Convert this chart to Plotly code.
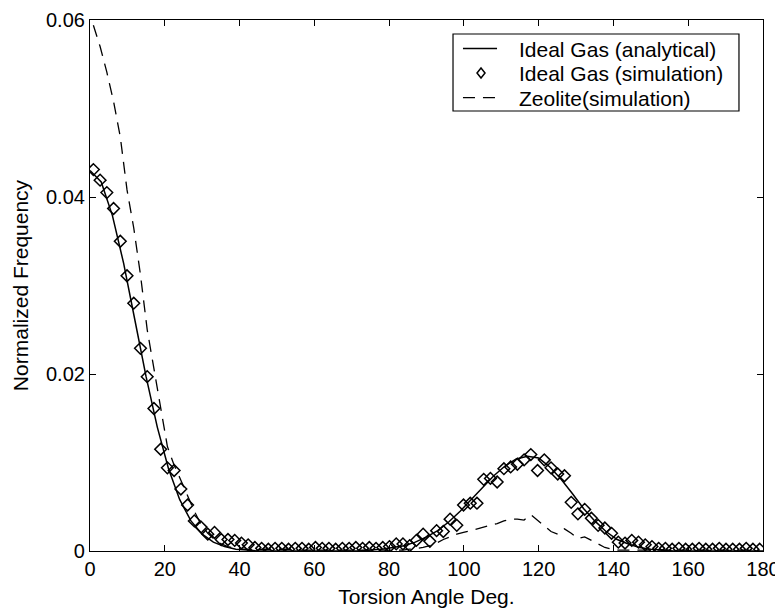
import plotly.graph_objects as go

# Bin centres of the simulated histograms (100 bins of 1.8 deg)
angles_sim = [round(0.9 + 1.8 * i, 1) for i in range(100)]

ideal_sim = [
    0.0431, 0.0419, 0.0405, 0.0387, 0.0350, 0.0311, 0.0280, 0.0229, 0.0197, 0.0161,
    0.0115, 0.0094, 0.0091, 0.0070, 0.0052, 0.0034, 0.0027, 0.0019, 0.0021, 0.0013,
    0.0013, 0.0012, 0.0009, 0.0007, 0.0004,
    0.0003, 0.0002, 0.0003, 0.0003, 0.0002, 0.0003, 0.0003, 0.0002, 0.0004, 0.0003,
    0.0003, 0.0002, 0.0003, 0.0003, 0.0004, 0.0003, 0.0004, 0.0003, 0.0004, 0.0005,
    0.0008, 0.0008, 0.0006, 0.0012, 0.0019, 0.0011, 0.0023, 0.0022, 0.0036, 0.0029,
    0.0052, 0.0054, 0.0054, 0.0081, 0.0082, 0.0078, 0.0093, 0.0095, 0.0098, 0.0103,
    0.0109, 0.0091, 0.0103, 0.0094, 0.0087, 0.0085, 0.0055, 0.0042, 0.0047, 0.0037,
    0.0029, 0.0026, 0.0020, 0.0010, 0.0009, 0.0012,
    0.0010, 0.0007, 0.0005, 0.0003, 0.0003, 0.0002, 0.0003, 0.0002, 0.0002, 0.0003,
    0.0002, 0.0002, 0.0003, 0.0002, 0.0002, 0.0002, 0.0003, 0.0002, 0.0002,
]

zeolite_sim = [
    0.0594, 0.0570, 0.0541, 0.0508, 0.0468, 0.0408, 0.0365, 0.0312, 0.0250, 0.0208,
    0.0162, 0.0118, 0.0097, 0.0080, 0.0062, 0.0045, 0.0030, 0.0020, 0.0013, 0.0008,
    0.0005, 0.0003,
    0.0002, 0.0002, 0.0002, 0.0002, 0.0002, 0.0002, 0.0002, 0.0002, 0.0002,
    0.0001, 0.0001, 0.0001, 0.0001, 0.0001, 0.0001, 0.0001, 0.0001, 0.0001, 0.0001,
    0.0001, 0.0001, 0.0001, 0.0001, 0.0001, 0.0001, 0.0002, 0.0003,
    0.0004, 0.0006, 0.0009, 0.0013, 0.0016, 0.0019, 0.0021, 0.0023, 0.0025, 0.0027,
    0.0029, 0.0031, 0.0034, 0.0036, 0.0036, 0.0035, 0.0041, 0.0035, 0.0028, 0.0022,
    0.0019, 0.0025, 0.0020, 0.0014, 0.0016, 0.0012, 0.0008, 0.0004, 0.0002,
    0.0001, 0.0001, 0.0001, 0.0001, 0.0001, 0.0001, 0.0001, 0.0001, 0.0001, 0.0001,
    0.0001, 0.0001, 0.0001, 0.0001, 0.0001, 0.0001, 0.0001, 0.0001, 0.0001, 0.0001,
    0.0001, 0.0001,
]

angles_ana = list(range(0, 181, 3))
ideal_ana = [
    0.0430, 0.0417, 0.0379, 0.0325, 0.0261, 0.0197, 0.0140, 0.0093, 0.0058, 0.0034,
    0.0019, 0.0010, 0.0005, 0.0002, 0.0001,
    0.0, 0.0, 0.0, 0.0, 0.0, 0.0, 0.0, 0.0, 0.0, 0.0,
    0.0001, 0.0002, 0.0004, 0.0006, 0.0010, 0.0016, 0.0023, 0.0033, 0.0045, 0.0058,
    0.0072, 0.0085, 0.0096, 0.0104, 0.0107, 0.0105, 0.0095, 0.0081, 0.0065, 0.0048,
    0.0034, 0.0022, 0.0013, 0.0008, 0.0004, 0.0002, 0.0001,
    0.0, 0.0, 0.0, 0.0, 0.0, 0.0, 0.0, 0.0, 0.0,
]

series_names = ["Ideal Gas (analytical)", "Ideal Gas (simulation)", "Zeolite(simulation)"]
x_ticks = [0, 20, 40, 60, 80, 100, 120, 140, 160, 180]
y_ticks = [0, 0.02, 0.04, 0.06]
y_tick_text = ["0", "0.02", "0.04", "0.06"]

FONT = "Liberation Sans, Arial, Helvetica, sans-serif"
DASH = "12px,8px"

fig = go.Figure()
fig.add_trace(go.Scatter(
    x=angles_ana, y=ideal_ana, mode="lines", name=series_names[0],
    line=dict(color="black", width=1.5),
))
fig.add_trace(go.Scatter(
    x=angles_sim, y=ideal_sim, mode="markers", name=series_names[1],
    marker=dict(symbol="diamond-open", size=9, color="black",
                line=dict(width=1.5, color="black")),
))
fig.add_trace(go.Scatter(
    x=angles_sim, y=zeolite_sim, mode="lines", name=series_names[2],
    line=dict(color="black", width=1.3, dash=DASH),
))

axis_common = dict(
    showline=True, linecolor="black", linewidth=1.2, mirror="ticks",
    ticks="inside", ticklen=6, tickcolor="black", tickwidth=1.2,
    showgrid=False, zeroline=False, automargin=False,
    tickfont=dict(family=FONT, size=20, color="black"),
)

# ---- MATLAB-style legend box ----
box_x0, box_x1 = 0.5394, 0.9643
box_y0, box_y1 = 0.8286, 0.9736
row_y = [0.9463, 0.9002, 0.8540]
samp_x0, samp_x1 = 0.5542, 0.6048
samp_xc = 0.5810
text_x = 0.6360

shapes = [
    dict(type="rect", xref="paper", yref="paper", x0=box_x0, x1=box_x1, y0=box_y0, y1=box_y1,
         line=dict(color="black", width=1.2), fillcolor="white", layer="above"),
    dict(type="line", xref="paper", yref="paper", x0=samp_x0, x1=samp_x1, y0=row_y[0], y1=row_y[0],
         line=dict(color="black", width=1.5), layer="above"),
    dict(type="path", xref="paper", yref="paper", xsizemode="pixel", ysizemode="pixel",
         xanchor=samp_xc, yanchor=row_y[1], path="M0,5 L4,0 L0,-5 L-4,0 Z",
         line=dict(color="black", width=1.5), fillcolor="rgba(0,0,0,0)", layer="above"),
    dict(type="line", xref="paper", yref="paper", x0=samp_x0, x1=samp_x1, y0=row_y[2], y1=row_y[2],
         line=dict(color="black", width=1.3, dash=DASH), layer="above"),
]
annotations = [
    dict(text=name, xref="paper", yref="paper", x=text_x, y=yy, xanchor="left", yanchor="middle",
         showarrow=False, font=dict(family=FONT, size=21, color="black"),
         borderpad=0, height=24, valign="middle")
    for name, yy in zip(series_names, row_y)
]

# The page body has an 8 px margin, so the figure is 8 px smaller than the window
fig.update_layout(
    width=775, height=602,
    margin=dict(l=82, r=20, t=12, b=59),
    paper_bgcolor="white", plot_bgcolor="white",
    font=dict(family=FONT, size=20, color="black"),
    xaxis=dict(range=[0, 180], tickvals=x_ticks,
               title=dict(text="Torsion Angle Deg.", font=dict(family=FONT, size=21), standoff=10),
               **axis_common),
    yaxis=dict(range=[0, 0.06], tickvals=y_ticks, ticktext=y_tick_text,
               title=dict(text="Normalized Frequency", font=dict(family=FONT, size=21), standoff=11),
               **axis_common),
    showlegend=False,
    shapes=shapes,
    annotations=annotations,
)

fig.write_html("out.html")
